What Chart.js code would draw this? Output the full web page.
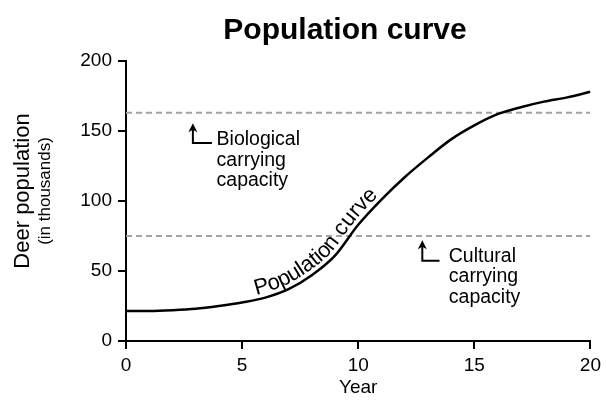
<!DOCTYPE html>
<html><head><meta charset="utf-8">
<script src="https://cdn.jsdelivr.net/npm/chart.js@4.4.1/dist/chart.umd.min.js"></script>
<style>html,body{margin:0;padding:0;background:#fff}#wrap{width:606px;height:404px;position:relative}canvas{display:block}</style>
</head><body><div id="wrap"><canvas id="c" width="606" height="404" style="width:606px;height:404px"></canvas></div>
<script>
// ---- data ----
const years = [0,1,2,3,4,5,6,7,8,9,10,11,12,13,14,15,16,17,18,19,20];
const population = [21.5,21.5,22,23,25,27.5,31,37,47,61,83,101,117,131,144,154,162,167,171,174,178];
const biologicalCapacity = 163;
const culturalCapacity = 75;
const xTicks = [0,5,10,15,20];
const yTicks = [0,50,100,150,200];
const titleText = 'Population curve';
const yTitle = 'Deer population';
const ySubtitle = '(in thousands)';
const xTitle = 'Year';
const curveLabel = 'Population curve';
const bioLabel = ['Biological','carrying','capacity'];
const culLabel = ['Cultural','carrying','capacity'];

// ---- annotation placement (data coords) ----
const bioNote = {x: 2.88, yTop: 155.5, yBottom: 141.5, xEnd: 3.70, textX: 3.90, textY: 140};
const culNote = {x: 12.76, yTop: 72, yBottom: 57.4, xEnd: 13.50, textX: 13.9, textY: 56.6};
const curveLabelStart = 5.65;

const FONT = '"Liberation Sans", Arial, Helvetica, sans-serif';

function hline(v){ return [{x: xTicks[0], y: v}, {x: xTicks[xTicks.length-1], y: v}]; }

const decor = {
  id: 'decor',
  afterDraw(chart){
    const ctx = chart.ctx, xs = chart.scales.x, ys = chart.scales.y, ca = chart.chartArea;
    ctx.save();
    ctx.fillStyle = '#000';
    // title
    ctx.font = 'bold 30px ' + FONT;
    ctx.textAlign = 'center'; ctx.textBaseline = 'alphabetic';
    ctx.fillText(titleText, 345, 38.5);
    // x title
    ctx.font = '19px ' + FONT;
    ctx.fillText(xTitle, (ca.left + ca.right)/2, 393);
    // y titles
    ctx.save();
    ctx.translate(28.5, 191); ctx.rotate(-Math.PI/2);
    ctx.font = '22px ' + FONT; ctx.fillText(yTitle, 0, 0);
    ctx.restore();
    ctx.save();
    ctx.translate(50, 191); ctx.rotate(-Math.PI/2);
    ctx.font = '17px ' + FONT; ctx.fillText(ySubtitle, 0, 0);
    ctx.restore();

    // arrows + notes
    function note(n, lines){
      const x = xs.getPixelForValue(n.x), yt = ys.getPixelForValue(n.yTop), yb = ys.getPixelForValue(n.yBottom);
      const xe = xs.getPixelForValue(n.xEnd);
      ctx.strokeStyle = '#000'; ctx.lineWidth = 2; ctx.lineJoin = 'miter';
      ctx.beginPath(); ctx.moveTo(x, yt + 5); ctx.lineTo(x, yb); ctx.lineTo(xe, yb); ctx.stroke();
      ctx.beginPath(); ctx.moveTo(x, yt); ctx.lineTo(x - 4.5, yt + 9); ctx.lineTo(x, yt + 6.5); ctx.lineTo(x + 4.5, yt + 9); ctx.closePath(); ctx.fill();
      ctx.font = '19.5px ' + FONT; ctx.textAlign = 'left'; ctx.textBaseline = 'alphabetic';
      const tx = xs.getPixelForValue(n.textX), ty = ys.getPixelForValue(n.textY);
      lines.forEach((l, i) => ctx.fillText(l, tx, ty + i * 20.5));
    }
    note(bioNote, bioLabel);
    note(culNote, culLabel);

    // text along curve
    const meta = chart.getDatasetMeta(0);
    const P = meta.data;
    const poly = [];
    for (let i = 0; i < P.length - 1; i++){
      const a = P[i], b = P[i+1];
      const c1x = a.cp2x ?? a.x, c1y = a.cp2y ?? a.y, c2x = b.cp1x ?? b.x, c2y = b.cp1y ?? b.y;
      for (let k = 0; k < 30; k++){
        const t = k/30, u = 1 - t;
        poly.push({x: u*u*u*a.x + 3*u*u*t*c1x + 3*u*t*t*c2x + t*t*t*b.x,
                   y: u*u*u*a.y + 3*u*u*t*c1y + 3*u*t*t*c2y + t*t*t*b.y});
      }
    }
    poly.push({x: P[P.length-1].x, y: P[P.length-1].y});
    const L = [0];
    for (let i = 1; i < poly.length; i++) L.push(L[i-1] + Math.hypot(poly[i].x-poly[i-1].x, poly[i].y-poly[i-1].y));
    function at(s){
      let i = 1; while (i < L.length - 1 && L[i] < s) i++;
      const a = poly[i-1], b = poly[i], seg = (L[i]-L[i-1]) || 1, t = (s - L[i-1]) / seg;
      const dx = (b.x-a.x)/seg, dy = (b.y-a.y)/seg;
      return {x: a.x + (b.x-a.x)*t, y: a.y + (b.y-a.y)*t, ang: Math.atan2(dy, dx), tx: dx, ty: dy};
    }
    const sx = xs.getPixelForValue(curveLabelStart);
    let s0 = 0; for (let i = 0; i < poly.length; i++){ if (poly[i].x >= sx){ s0 = L[i]; break; } }
    ctx.font = '22px ' + FONT; ctx.textAlign = 'center'; ctx.textBaseline = 'alphabetic';
    let s = s0; const off = 5;
    for (const ch of curveLabel){
      const w = ctx.measureText(ch).width;
      const p = at(s + w/2);
      ctx.save();
      ctx.translate(p.x + p.ty*off, p.y - p.tx*off);
      ctx.rotate(p.ang);
      ctx.fillText(ch, 0, 0);
      ctx.restore();
      s += w;
    }
    ctx.restore();
  }
};

new Chart(document.getElementById('c'), {
  type: 'line',
  data: {
    datasets: [
      {data: years.map((x, i) => ({x, y: population[i]})), borderColor: '#000', borderWidth: 2.5, pointRadius: 0, cubicInterpolationMode: 'monotone', fill: false},
      {data: hline(biologicalCapacity), borderColor: '#a3a3a3', borderWidth: 2, borderDash: [6, 4], pointRadius: 0},
      {data: hline(culturalCapacity), borderColor: '#a3a3a3', borderWidth: 2, borderDash: [6, 4], pointRadius: 0}
    ]
  },
  options: {
    responsive: false, animation: false, devicePixelRatio: 1,
    layout: {padding: {top: 61, right: 15, left: 0, bottom: 0}},
    plugins: {legend: {display: false}, tooltip: {enabled: false}, title: {display: false}},
    scales: {
      x: {
        type: 'linear', min: xTicks[0], max: xTicks[xTicks.length-1],
        afterBuildTicks: s => { s.ticks = xTicks.map(v => ({value: v})); },
        afterFit: s => { s.height = 63; },
        ticks: {font: {size: 19, family: FONT}, color: '#000', padding: 5, maxRotation: 0},
        grid: {drawOnChartArea: false, drawTicks: true, tickLength: 8, color: '#000', lineWidth: 2},
        border: {display: true, color: '#000', width: 2}
      },
      y: {
        type: 'linear', min: yTicks[0], max: yTicks[yTicks.length-1],
        afterBuildTicks: s => { s.ticks = yTicks.map(v => ({value: v})); },
        afterFit: s => { s.width = 126; },
        ticks: {font: {size: 19, family: FONT}, color: '#000', padding: 6},
        grid: {drawOnChartArea: false, drawTicks: true, tickLength: 8, color: '#000', lineWidth: 2},
        border: {display: true, color: '#000', width: 2}
      }
    }
  },
  plugins: [decor]
});
</script></body></html>
